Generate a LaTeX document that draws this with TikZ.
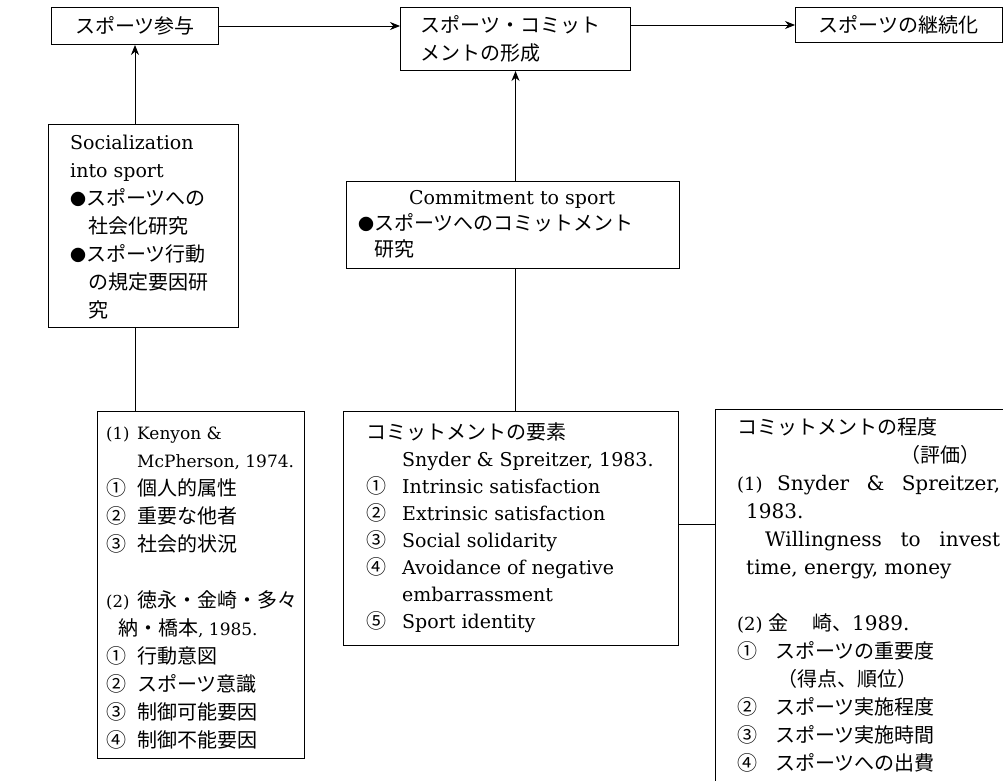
\documentclass[tikz,border=0pt]{standalone}
\usepackage{fontspec}
\setmainfont{DejaVu Serif}
\newfontfamily\jpf{Noto Sans CJK JP}
\usetikzlibrary{arrows.meta}
\newcommand\jp[1]{{\jpf\fontsize{20}{20}\selectfont #1}}
\newcommand\jpn[1]{{\jpf\fontsize{20}{20}\selectfont #1}}
\newcommand\bul{{\jpf\fontsize{16}{16}\selectfont ●}}
\newcommand\smallnum[1]{{\fontsize{18}{18}\selectfont #1}}
\newcommand\tinynum[1]{{\fontsize{16.5}{16.5}\selectfont #1}}
\newcommand\numcol[2]{\makebox[#1][l]{#2}}
\newcommand\firstl{\rule{0pt}{19pt}}
\tikzset{
  frame/.style={draw, line width=1pt, anchor=north west, inner sep=0pt},
  body/.style={anchor=north west, inner sep=0pt, align=left, font=\fontsize{19}{27}\selectfont},
  link/.style={line width=0.9pt},
  arrowlink/.style={link, -{Stealth[length=10pt,width=8pt]}}
}
\begin{document}
\begin{tikzpicture}[x=1pt,y=-1pt]
\useasboundingbox (0,0) rectangle (1003,781);
\fill[white] (0,0) rectangle (1003,781);
\clip (0,0) rectangle (1003,781);

% top row
\node[frame, minimum width=167pt, minimum height=37pt] (A) at (51,7) {\jp{スポーツ参与}};
\node[frame, align=left, text width=190pt, inner xsep=20pt, minimum height=63pt,
      font=\fontsize{18}{28}\selectfont] (B) at (400,7) {\jp{スポーツ・コミット}\\\jp{メントの形成}};
\node[frame, align=left, text width=161pt, inner xsep=23pt, minimum height=35pt] (C) at (795,7) {\jp{スポーツの継続化}};

\draw[arrowlink] (A.east) -- (A.east -| B.west);
\draw[arrowlink] (B.east |- C.west) -- (C.west);

% left column
\node[frame, minimum width=190pt, minimum height=203pt] (D) at (48,124) {};
\node[body, font=\fontsize{19}{28}\selectfont] (Dt) at (70,130) {\firstl Socialization\\
into sport\\
\bul\jp{スポーツへの}\\
\hspace*{18pt}\jp{社会化研究}\\
\bul\jp{スポーツ行動}\\
\hspace*{18pt}\jp{の規定要因研}\\
\hspace*{18pt}\jp{究}};

\node[frame, minimum width=207pt, minimum height=347pt] (E) at (97,411) {};
\node[body, font=\fontsize{17}{28}\selectfont] (Et) at (106,420) {\firstl\numcol{31pt}{\tinynum{(1)}}Kenyon \&\\
\hspace*{31pt}McPherson, 1974.\\
\numcol{31pt}{\jpn{①}}\jp{個人的属性}\\
\numcol{31pt}{\jpn{②}}\jp{重要な他者}\\
\numcol{31pt}{\jpn{③}}\jp{社会的状況}\\
\mbox{}\\
\numcol{31pt}{\tinynum{(2)}}\jp{徳永・金崎・多々}\\
\hspace*{12pt}\jp{納・橋本}, 1985.\\
\numcol{31pt}{\jpn{①}}\jp{行動意図}\\
\numcol{31pt}{\jpn{②}}\jp{スポーツ意識}\\
\numcol{31pt}{\jpn{③}}\jp{制御可能要因}\\
\numcol{31pt}{\jpn{④}}\jp{制御不能要因}};

\draw[arrowlink] (D.north -| A.south) -- (A.south);
\draw[link] (D.south -| A.south) -- (E.north -| A.south);

% middle column
\node[frame, minimum width=333pt, minimum height=87pt] (F) at (346,181) {};
\node[body, font=\fontsize{19}{26}\selectfont] (Ft) at (358,185) {\firstl\makebox[308pt][c]{Commitment to sport}\\
\bul\jp{スポーツへのコミットメント}\\
\hspace*{16pt}\jp{研究}};

\node[frame, minimum width=335pt, minimum height=234pt] (G) at (343,411) {};
\node[body] (Gt) at (366,420) {\firstl\jp{コミットメントの要素}\\
\hspace*{36pt}Snyder \& Spreitzer, 1983.\\
\numcol{36pt}{\jpn{①}}Intrinsic satisfaction\\
\numcol{36pt}{\jpn{②}}Extrinsic satisfaction\\
\numcol{36pt}{\jpn{③}}Social solidarity\\
\numcol{36pt}{\jpn{④}}Avoidance of negative\\
\hspace*{36pt}embarrassment\\
\numcol{36pt}{\jpn{⑤}}Sport identity};

\draw[arrowlink] (F.north -| B.south) -- (B.south);
\draw[link] (F.south -| B.south) -- (G.north -| B.south);

% right column
\node[frame, minimum width=320pt, minimum height=400pt] (H) at (715,409) {};
\node[body, font=\fontsize{20}{28}\selectfont] (Ht) at (737,415) {\firstl\jp{コミットメントの程度}\\
\hspace*{163pt}\jp{（評価）}\\
\numcol{40pt}{\smallnum{(1)}}\makebox[223pt][l]{Snyder\hfill\&\hfill Spreitzer,}\\
\hspace*{9pt}1983.\\
\hspace*{28pt}\makebox[235pt][l]{Willingness\hfill to\hfill invest}\\
\hspace*{9pt}time, energy, money\\
\mbox{}\\
\numcol{31pt}{\smallnum{(2)}}\jp{金\hspace{24pt}崎、}1989.\\
\numcol{38pt}{\jpn{①}}\jp{スポーツの重要度}\\
\hspace*{40pt}\jp{（得点、順位）}\\
\numcol{38pt}{\jpn{②}}\jp{スポーツ実施程度}\\
\numcol{38pt}{\jpn{③}}\jp{スポーツ実施時間}\\
\numcol{38pt}{\jpn{④}}\jp{スポーツへの出費}};

\coordinate (gh) at (696,524);
\draw[link] (gh -| G.east) -- (gh -| H.west);
\end{tikzpicture}
\end{document}
